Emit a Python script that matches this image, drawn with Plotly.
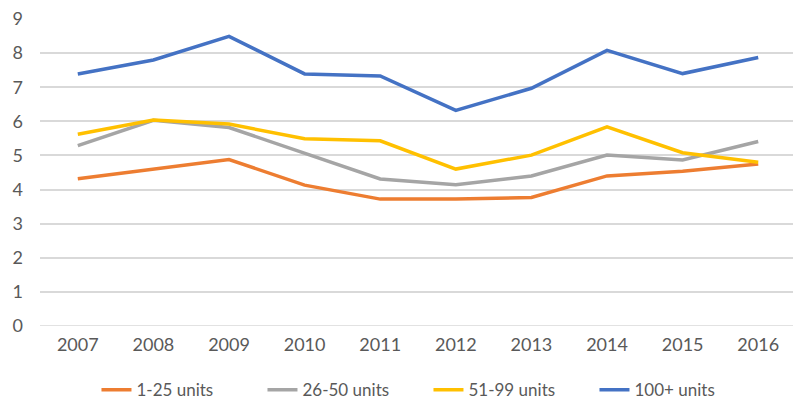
import plotly.graph_objects as go

years = ["2007", "2008", "2009", "2010", "2011", "2012", "2013", "2014", "2015", "2016"]
units_1_25 = [4.32, 4.60, 4.88, 4.13, 3.72, 3.72, 3.77, 4.40, 4.54, 4.75]
units_26_50 = [5.29, 6.03, 5.82, 5.07, 4.31, 4.14, 4.40, 5.01, 4.87, 5.41]
units_51_99 = [5.62, 6.04, 5.92, 5.49, 5.43, 4.60, 5.01, 5.84, 5.08, 4.80]
units_100 = [7.39, 7.80, 8.49, 7.39, 7.33, 6.32, 6.97, 8.08, 7.40, 7.87]

series = [
    ("1-25 units", units_1_25, "#ED7D31"),
    ("26-50 units", units_26_50, "#A5A5A5"),
    ("51-99 units", units_51_99, "#FFC000"),
    ("100+ units", units_100, "#4472C4"),
]

fig = go.Figure()
for name, vals, col in series:
    fig.add_trace(go.Scatter(
        x=list(range(len(years))), y=vals, name=name, mode="lines",
        line=dict(color=col, width=3.5),
    ))

font_family = "Lato, 'Noto Sans', sans-serif"
fig.update_layout(
    width=793, height=400,
    margin=dict(l=40, r=0, t=19, b=74, autoexpand=False),
    paper_bgcolor="white", plot_bgcolor="white",
    font=dict(family=font_family, color="#595959"),
    showlegend=True,
    legend=dict(
        orientation="h", x=0.075, xanchor="left",
        y=-0.209, yanchor="middle",
        font=dict(size=17, color="#595959"),
        itemwidth=30, traceorder="normal",
        entrywidth=121, entrywidthmode="pixels",
    ),
    xaxis=dict(
        tickmode="array", tickvals=list(range(len(years))), ticktext=years,
        range=[-0.5, 9.46], showgrid=False, zeroline=False, showline=False,
        ticks="", tickfont=dict(size=18, color="#595959"),
        ticklabelstandoff=6, automargin=False,
    ),
    yaxis=dict(
        range=[0, 9], dtick=1, tick0=0, showgrid=True, gridcolor="#D9D9D9",
        gridwidth=1.5, zeroline=False, showline=False, ticks="",
        tickfont=dict(size=18, color="#595959"),
        ticklabelstandoff=16, automargin=False,
    ),
)
fig.add_shape(type="line", xref="paper", yref="y", x0=0, x1=1, y0=0, y1=0,
              line=dict(color="#D9D9D9", width=1.5), layer="below")

fig.write_html("out.html", config={"displayModeBar": False},
               post_script="document.body.style.margin='0';document.body.style.overflow='hidden';")
